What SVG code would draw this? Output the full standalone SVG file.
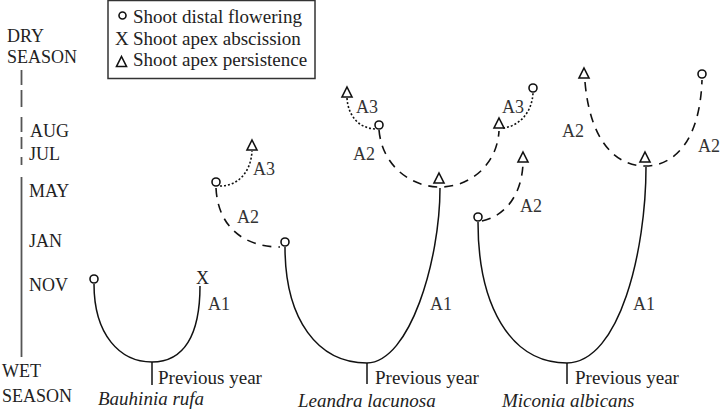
<svg xmlns="http://www.w3.org/2000/svg" xmlns:xlink="http://www.w3.org/1999/xlink" width="720" height="414" viewBox="0 0 720 414">
<style>
text{font-family:"Liberation Serif","Times New Roman",serif;font-size:18px;fill:#222}
.lab{font-size:18px;fill:#333}
.sp{font-style:italic;font-size:19px}
.py{font-size:19px}
.leg{font-size:19px}
.solid{fill:none;stroke:#111;stroke-width:1.5}
.dash{fill:none;stroke:#111;stroke-width:1.6;stroke-dasharray:9 7}
.dot{fill:none;stroke:#111;stroke-width:1.6;stroke-dasharray:2 2}
.ax{stroke:#555;stroke-width:1.8}
.mk{fill:#fff;stroke:#111;stroke-width:1.6}
</style>
<defs>
<path id="tri" d="M0,-5 L5,5 L-5,5 Z" class="mk"/>
</defs>
<rect width="720" height="414" fill="#fff"/>

<g id="legend">
<rect x="108" y="0.5" width="207" height="78" fill="#fff" stroke="#333" stroke-width="1.5"/>
<circle cx="122.5" cy="15.5" r="3.5" class="mk"/>
<text x="133" y="23" class="leg">Shoot distal flowering</text>
<text x="115" y="45" class="leg">X</text>
<text x="133" y="45" class="leg">Shoot apex abscission</text>
<use xlink:href="#tri" x="121.5" y="61.5" transform="translate(0,0)"/>
<text x="133" y="66" class="leg">Shoot apex persistence</text>
</g>

<g id="season-axis">
<text x="7" y="42">DRY</text>
<text x="7" y="63">SEASON</text>
<line x1="21.5" y1="70" x2="21.5" y2="85" class="ax"/>
<line x1="21.5" y1="90" x2="21.5" y2="107" class="ax"/>
<line x1="21.5" y1="117" x2="21.5" y2="132" class="ax"/>
<line x1="21.5" y1="137" x2="21.5" y2="149" class="ax"/>
<line x1="21.5" y1="157" x2="21.5" y2="165" class="ax"/>
<line x1="21.5" y1="177" x2="21.5" y2="357" class="ax"/>
<text x="30" y="137">AUG</text>
<text x="29" y="160">JUL</text>
<text x="29" y="197">MAY</text>
<text x="29" y="247">JAN</text>
<text x="29" y="291">NOV</text>
<text x="2" y="377">WET</text>
<text x="2" y="402">SEASON</text>
</g>

<g id="connectors">
<!-- Bauhinia rufa -->
<path d="M94,284 C94,335 120,362 152,362 C184,362 200,335 200,286" class="solid"/>
<line x1="152" y1="362" x2="152" y2="385" class="solid"/>
<!-- Leandra lacunosa -->
<path d="M285,247 C285,320 318,363 367,363 C410,362 440,260 440,188" class="solid"/>
<line x1="367" y1="363" x2="367" y2="384" class="solid"/>
<path d="M216,188 C218,228 245,247 280,247" class="dash"/>
<path d="M220,186 C238,186 251,172 252,151" class="dot"/>
<path d="M379,130 C382,165 410,187 440,187 C470,187 497,165 499,131" class="dash"/>
<path d="M375,129 C358,128 348,115 347,98" class="dot"/>
<path d="M503,128 C520,126 532,112 533,93" class="dot"/>
<!-- Miconia albicans -->
<path d="M478,222 C478,305 510,363 567,363 C620,362 646,250 646,167" class="solid"/>
<line x1="567" y1="363" x2="567" y2="384" class="solid"/>
<path d="M482,221 C505,216 522,195 523,163" class="dash"/>
<path d="M585,82 C590,140 615,166 645,166 C675,166 700,140 702,80" class="dash"/>
</g>

<g id="bauhinia">
<circle cx="94" cy="279" r="4" class="mk"/>
<text x="202.5" y="284" text-anchor="middle">X</text>
<circle cx="216" cy="182" r="4" class="mk"/>
<use xlink:href="#tri" x="252" y="145"/>
<text x="208" y="310" class="lab">A1</text>
<text x="237" y="223" class="lab">A2</text>
<text x="253" y="175" class="lab">A3</text>
<text x="158" y="384" class="py">Previous year</text>
<text x="98" y="405" class="sp">Bauhinia rufa</text>
</g>

<g id="leandra">
<circle cx="285" cy="242" r="4" class="mk"/>
<use xlink:href="#tri" x="439" y="178"/>
<circle cx="379" cy="125" r="4" class="mk"/>
<use xlink:href="#tri" x="347" y="92"/>
<use xlink:href="#tri" x="499" y="123"/>
<circle cx="533" cy="88" r="4" class="mk"/>
<text x="430" y="310" class="lab">A1</text>
<text x="353" y="160" class="lab">A2</text>
<text x="356" y="113" class="lab">A3</text>
<text x="502" y="113" class="lab">A3</text>
<text x="375" y="384" class="py">Previous year</text>
<text x="298" y="407" class="sp">Leandra lacunosa</text>
</g>

<g id="miconia">
<circle cx="478" cy="217" r="4" class="mk"/>
<use xlink:href="#tri" x="523" y="157"/>
<use xlink:href="#tri" x="645" y="157"/>
<use xlink:href="#tri" x="584" y="73"/>
<circle cx="702" cy="74" r="4" class="mk"/>
<text x="633" y="310" class="lab">A1</text>
<text x="520" y="212" class="lab">A2</text>
<text x="562" y="137" class="lab">A2</text>
<text x="698" y="152" class="lab">A2</text>
<text x="575" y="384" class="py">Previous year</text>
<text x="502" y="407" class="sp">Miconia albicans</text>
</g>
</svg>
